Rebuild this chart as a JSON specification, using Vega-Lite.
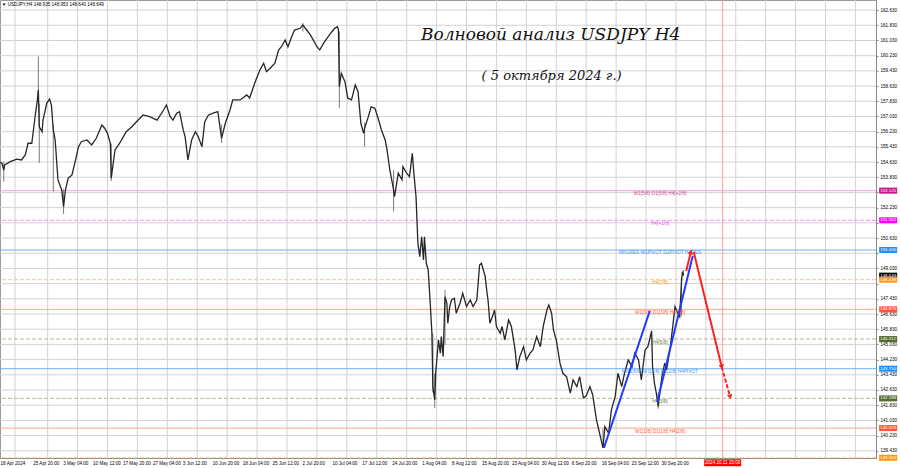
{
  "$schema": "https://vega.github.io/schema/vega-lite/v6.json",
  "width": 876,
  "height": 458,
  "autosize": {"type": "none"},
  "padding": {"left": 0, "top": 0, "right": 24, "bottom": 10},
  "background": "#ffffff",
  "config": {"view": {"stroke": "#9a9a9a", "strokeWidth": 1}, "font": "Liberation Sans", "axis": {"title": null}},
  "datasets": {
    "price": [
      {"b":0,"c":154.63},{"b":2,"c":154.57},{"b":4,"c":154.21},{"b":5,"c":154.48},{"b":11,"c":154.65},{"b":18,"c":154.78},{"b":23,"c":154.74},{"b":27,"c":155.0},{"b":30,"c":155.62},{"b":34,"c":155.62},{"b":36,"c":156.41},{"b":38,"c":157.2},{"b":40,"c":157.9},{"b":41,"c":158.42},{"b":42,"c":156.49},{"b":45,"c":156.23},{"b":46,"c":156.84},{"b":50,"c":157.72},{"b":53,"c":157.95},{"b":55,"c":157.63},{"b":57,"c":156.32},{"b":59,"c":155.79},{"b":62,"c":153.69},{"b":66,"c":153.16},{"b":68,"c":152.28},{"b":70,"c":153.16},{"b":73,"c":153.78},{"b":77,"c":153.95},{"b":80,"c":154.57},{"b":84,"c":155.44},{"b":87,"c":155.7},{"b":93,"c":155.79},{"b":98,"c":155.53},{"b":103,"c":155.88},{"b":109,"c":156.58},{"b":112,"c":156.41},{"b":115,"c":156.14},{"b":118,"c":155.62},{"b":119,"c":153.78},{"b":123,"c":155.27},{"b":128,"c":155.62},{"b":132,"c":155.97},{"b":135,"c":156.23},{"b":141,"c":156.49},{"b":146,"c":156.75},{"b":153,"c":157.11},{"b":160,"c":157.02},{"b":168,"c":156.84},{"b":175,"c":157.37},{"b":178,"c":157.63},{"b":182,"c":157.02},{"b":185,"c":156.84},{"b":189,"c":157.2},{"b":192,"c":157.28},{"b":196,"c":156.32},{"b":198,"c":155.97},{"b":201,"c":154.74},{"b":205,"c":155.79},{"b":209,"c":156.23},{"b":212,"c":155.97},{"b":216,"c":155.44},{"b":219,"c":156.75},{"b":223,"c":157.11},{"b":228,"c":157.2},{"b":233,"c":157.28},{"b":237,"c":155.88},{"b":241,"c":156.67},{"b":246,"c":157.37},{"b":249,"c":157.9},{"b":257,"c":157.9},{"b":264,"c":158.16},{"b":267,"c":158.0},{"b":273,"c":158.86},{"b":278,"c":159.48},{"b":282,"c":159.83},{"b":285,"c":159.39},{"b":289,"c":159.57},{"b":294,"c":159.83},{"b":298,"c":160.53},{"b":301,"c":160.7},{"b":305,"c":161.06},{"b":308,"c":160.7},{"b":312,"c":161.23},{"b":315,"c":161.58},{"b":321,"c":161.67},{"b":324,"c":161.84},{"b":328,"c":161.58},{"b":332,"c":161.32},{"b":335,"c":161.06},{"b":339,"c":160.7},{"b":342,"c":160.53},{"b":346,"c":160.88},{"b":351,"c":161.23},{"b":355,"c":161.49},{"b":358,"c":161.67},{"b":361,"c":161.75},{"b":362,"c":161.58},{"b":363,"c":158.6},{"b":365,"c":159.3},{"b":369,"c":158.86},{"b":372,"c":157.99},{"b":376,"c":157.9},{"b":380,"c":158.69},{"b":383,"c":158.33},{"b":386,"c":156.67},{"b":389,"c":156.14},{"b":390,"c":156.41},{"b":394,"c":157.02},{"b":397,"c":157.54},{"b":401,"c":157.46},{"b":405,"c":156.84},{"b":408,"c":156.32},{"b":412,"c":155.79},{"b":414,"c":155.27},{"b":417,"c":154.21},{"b":421,"c":153.16},{"b":422,"c":152.81},{"b":426,"c":154.04},{"b":430,"c":153.69},{"b":431,"c":154.39},{"b":435,"c":154.04},{"b":438,"c":153.86},{"b":441,"c":155.09},{"b":443,"c":153.86},{"b":445,"c":152.81},{"b":446,"c":151.58},{"b":447,"c":150.36},{"b":449,"c":149.65},{"b":451,"c":150.7},{"b":453,"c":149.48},{"b":454,"c":150.7},{"b":456,"c":149.3},{"b":458,"c":148.95},{"b":460,"c":147.37},{"b":462,"c":145.62},{"b":463,"c":142.81},{"b":465,"c":142.11},{"b":466,"c":143.51},{"b":469,"c":145.27},{"b":471,"c":144.57},{"b":472,"c":145.44},{"b":474,"c":144.39},{"b":476,"c":147.54},{"b":478,"c":147.2},{"b":479,"c":146.14},{"b":481,"c":147.02},{"b":483,"c":147.37},{"b":486,"c":147.46},{"b":488,"c":146.67},{"b":492,"c":147.2},{"b":495,"c":147.72},{"b":499,"c":147.02},{"b":503,"c":147.37},{"b":506,"c":147.02},{"b":510,"c":147.37},{"b":513,"c":149.21},{"b":515,"c":149.3},{"b":519,"c":148.6},{"b":521,"c":147.72},{"b":522,"c":147.37},{"b":524,"c":146.14},{"b":528,"c":146.67},{"b":529,"c":146.84},{"b":531,"c":145.97},{"b":535,"c":145.62},{"b":537,"c":145.97},{"b":540,"c":145.27},{"b":544,"c":146.32},{"b":547,"c":145.97},{"b":551,"c":144.74},{"b":553,"c":143.69},{"b":556,"c":144.39},{"b":560,"c":144.91},{"b":563,"c":144.21},{"b":567,"c":144.57},{"b":570,"c":144.74},{"b":574,"c":145.44},{"b":578,"c":144.91},{"b":581,"c":145.97},{"b":585,"c":146.84},{"b":587,"c":147.11},{"b":590,"c":146.67},{"b":592,"c":145.79},{"b":595,"c":145.27},{"b":599,"c":144.04},{"b":602,"c":143.51},{"b":606,"c":143.33},{"b":610,"c":142.46},{"b":613,"c":143.16},{"b":617,"c":142.81},{"b":620,"c":143.33},{"b":624,"c":142.21},{"b":627,"c":142.32},{"b":631,"c":142.81},{"b":634,"c":142.37},{"b":638,"c":141.06},{"b":640,"c":140.63},{"b":643,"c":140.0},{"b":645,"c":139.58},{"b":647,"c":140.7},{"b":651,"c":140.36},{"b":654,"c":141.58},{"b":658,"c":142.28},{"b":661,"c":143.51},{"b":665,"c":142.81},{"b":668,"c":143.51},{"b":672,"c":144.21},{"b":676,"c":143.86},{"b":679,"c":144.57},{"b":683,"c":144.21},{"b":686,"c":143.16},{"b":690,"c":144.74},{"b":693,"c":144.91},{"b":697,"c":145.74},{"b":698,"c":143.86},{"b":700,"c":142.99},{"b":702,"c":142.46},{"b":704,"c":141.76},{"b":708,"c":143.33},{"b":711,"c":144.04},{"b":713,"c":143.69},{"b":717,"c":144.91},{"b":720,"c":146.14},{"b":722,"c":147.02},{"b":725,"c":146.67},{"b":727,"c":146.49},{"b":729,"c":148.42},{"b":730,"c":148.86},{"b":731,"c":148.66}
    ],
    "wicks": [
      {"b":4,"l":153.6,"h":154.65},{"b":41,"l":157.9,"h":160.18},{"b":42,"l":154.58,"h":157.7},{"b":57,"l":153.07,"h":156.6},{"b":68,"l":151.9,"h":153.2},{"b":119,"l":153.63,"h":155.6},{"b":237,"l":155.63,"h":156.6},{"b":324,"l":161.5,"h":161.95},{"b":363,"l":157.46,"h":161.5},{"b":390,"l":155.44,"h":156.7},{"b":421,"l":152.02,"h":154.2},{"b":463,"l":142.5,"h":145.6},{"b":465,"l":141.69,"h":143.5},{"b":476,"l":145.0,"h":147.9},{"b":645,"l":139.58,"h":140.6},{"b":704,"l":141.64,"h":142.5},{"b":729,"l":146.5,"h":148.6},{"b":731,"l":148.64,"h":148.95}
    ],
    "vgrid": [{"b":16},{"b":51},{"b":83},{"b":115},{"b":147},{"b":179},{"b":211},{"b":243},{"b":275},{"b":307},{"b":339},{"b":371},{"b":403},{"b":435},{"b":467},{"b":499},{"b":531},{"b":563},{"b":595},{"b":627},{"b":659},{"b":691},{"b":723},{"b":755},{"b":787},{"b":819},{"b":851},{"b":883},{"b":915}],
    "hgrid": [{"v":139.43},{"v":140.23},{"v":141.03},{"v":141.83},{"v":142.63},{"v":143.43},{"v":144.23},{"v":145.03},{"v":145.83},{"v":146.63},{"v":147.43},{"v":148.23},{"v":149.03},{"v":149.83},{"v":150.63},{"v":151.43},{"v":152.23},{"v":153.03},{"v":153.83},{"v":154.63},{"v":155.43},{"v":156.23},{"v":157.03},{"v":157.83},{"v":158.63},{"v":159.43},{"v":160.23},{"v":161.03},{"v":161.83},{"v":162.63}],
    "levels": [
      {"v":153.125,"k":"p5","src":"multi","lbl":"W1[5/8] D1[5/8] H4[+2/8]"},
      {"v":151.562,"k":"p1","src":"H4","lbl":"H4[+1/8]"},
      {"v":150.0,"k":"piv","src":"multi","lbl":"MN1RES W1PIVOT D1PIVOT H4RES"},
      {"v":148.438,"k":"o7","src":"H4","lbl":"H4[7/8]"},
      {"v":146.875,"k":"r3","src":"multi","lbl":"W1[3/8] D1[3/8] H4[6/8]"},
      {"v":145.312,"k":"g5","src":"H4","lbl":"H4[5/8]"},
      {"v":143.75,"k":"piv","src":"multi","lbl":"MN1[6/8] W1[2/8] D1[2/8] H4PIVOT"},
      {"v":142.188,"k":"g5","src":"H4","lbl":"H4[3/8]"},
      {"v":140.625,"k":"r3","src":"multi","lbl":"W1[1/8] D1[1/8] H4[2/8]"},
      {"v":139.062,"k":"o7","src":"H4","lbl":""}
    ],
    "tags": [
      {"v":153.125,"k":"p5"},{"v":151.562,"k":"p1"},{"v":150.0,"k":"piv"},{"v":148.649,"k":"now"},{"v":148.438,"k":"o7"},{"v":146.875,"k":"r3"},{"v":145.312,"k":"g5"},{"v":143.75,"k":"piv"},{"v":142.188,"k":"g5"},{"v":140.625,"k":"r3"},{"v":139.062,"k":"o7"}
    ],
    "waves": [
      {"g":"b1","b":646,"v":139.58},{"g":"b1","b":695,"v":146.79},
      {"g":"b2","b":703,"v":142.0},{"g":"b2","b":741,"v":149.69},
      {"g":"r1","b":734,"v":148.9},{"g":"r1","b":739,"v":149.9},
      {"g":"r2","b":742,"v":149.9},{"g":"r2","b":772,"v":143.84},
      {"g":"r3","b":772,"v":143.84},{"g":"r3","b":781,"v":142.27}
    ],
    "heads": [
      {"g":"r1","b":739,"v":149.9},{"g":"r2","b":772,"v":143.84},{"g":"r3","b":781,"v":142.27}
    ],
    "vline": [{"b":773,"t":"2024.10.11 20:00"}]
  },
  "resolve": {"scale": {"color": "independent", "strokeDash": "independent"}},
  "layer": [
    {
      "data": {"name": "vgrid"},
      "mark": {"type": "rule", "color": "#d2d2d2", "strokeWidth": 1},
      "encoding": {
        "x": {"field": "b", "type": "quantitative",
          "scale": {"domain": [0, 937], "nice": false, "zero": false},
          "axis": {"orient": "bottom", "title": null, "tickCount": 200,
            "values": [0,35,67,99,131,163,195,227,259,291,323,355,387,419,451,483,515,547,579,611,643,675,707],
            "labelExpr": "['18 Apr 2024','25 Apr 20:00','3 May 04:00','10 May 12:00','17 May 20:00','27 May 04:00','3 Jun 12:00','10 Jun 20:00','18 Jun 04:00','25 Jun 12:00','2 Jul 20:00','10 Jul 04:00','17 Jul 12:00','24 Jul 20:00','1 Aug 04:00','8 Aug 12:00','15 Aug 20:00','23 Aug 04:00','30 Aug 12:00','6 Sep 20:00','16 Sep 04:00','23 Sep 12:00','30 Sep 20:00'][datum.value == 0 ? 0 : (datum.value - 3) / 32]",
            "labelAlign": "left", "labelFontSize": 4.6, "labelColor": "#000000", "labelPadding": 2,
            "ticks": false, "grid": false, "domainColor": "#888888", "labelOverlap": false, "labelBound": false, "labelFlush": false}}
      }
    },
    {
      "data": {"name": "hgrid"},
      "mark": {"type": "rule", "color": "#d2d2d2", "strokeWidth": 1},
      "encoding": {
        "y": {"field": "v", "type": "quantitative",
          "scale": {"domain": [139.05, 163.16], "nice": false, "zero": false},
          "axis": {"orient": "right", "title": null, "tickCount": 200, "values": [139.43,140.23,141.03,141.83,142.63,143.43,144.23,145.03,145.83,146.63,147.43,148.23,149.03,149.83,150.63,151.43,152.23,153.03,153.83,154.63,155.43,156.23,157.03,157.83,158.63,159.43,160.23,161.03,161.83,162.63],
            "labelExpr": "indexof([153.03,151.43,149.83,148.23], datum.value) >= 0 ? '' : format(datum.value, '.3f')",
            "labelFontSize": 4.6, "labelColor": "#000000", "labelPadding": 2, "tickSize": 2, "tickColor": "#888888", "domainColor": "#888888", "grid": false, "labelOverlap": false, "labelBound": false, "labelFlush": false}}
      }
    },
    {
      "data": {"name": "levels"},
      "mark": {"type": "rule", "strokeWidth": 1},
      "encoding": {
        "y": {"field": "v", "type": "quantitative", "scale": {"domain": [139.05, 163.16], "nice": false, "zero": false}},
        "color": {"field": "k", "type": "nominal", "legend": null,
          "scale": {"domain": ["p5","p1","piv","o7","r3","g5"], "range": ["#f0a8d6","#ff8cff","#6fb0f8","#ffc78a","#ffa68c","#b9b99a"]}},
        "strokeDash": {"field": "src", "type": "nominal", "legend": null,
          "scale": {"domain": ["multi","H4"], "range": [[1,0],[4,2]]}}
      }
    },
    {
      "data": {"name": "vline"},
      "mark": {"type": "rule", "color": "#ff9c9c", "strokeWidth": 1},
      "encoding": {
        "x": {"field": "b", "type": "quantitative", "scale": {"domain": [0, 937], "nice": false, "zero": false}}
      }
    },
    {
      "data": {"name": "wicks"},
      "mark": {"type": "rule", "color": "#7a7a7a", "strokeWidth": 1},
      "encoding": {
        "x": {"field": "b", "type": "quantitative", "scale": {"domain": [0, 937], "nice": false, "zero": false}},
        "y": {"field": "l", "type": "quantitative", "scale": {"domain": [139.05, 163.16], "nice": false, "zero": false}},
        "y2": {"field": "h"}
      }
    },
    {
      "data": {"name": "price"},
      "mark": {"type": "line", "color": "#262626", "strokeWidth": 1.3},
      "encoding": {
        "x": {"field": "b", "type": "quantitative", "scale": {"domain": [0, 937], "nice": false, "zero": false}},
        "y": {"field": "c", "type": "quantitative", "scale": {"domain": [139.05, 163.16], "nice": false, "zero": false}}
      }
    },
    {
      "data": {"name": "levels"},
      "mark": {"type": "text", "align": "center", "baseline": "top", "fontSize": 4.8, "dy": 0.5},
      "encoding": {
        "x": {"datum": 706, "type": "quantitative", "scale": {"domain": [0, 937], "nice": false, "zero": false}},
        "y": {"field": "v", "type": "quantitative", "scale": {"domain": [139.05, 163.16], "nice": false, "zero": false}},
        "text": {"field": "lbl"},
        "color": {"field": "k", "type": "nominal", "legend": null,
          "scale": {"domain": ["p5","p1","piv","o7","r3","g5"], "range": ["#cf4a9c","#ee55ee","#3d94ee","#ff9a2e","#ff5b33","#6d8443"]}}
      }
    },
    {
      "data": {"name": "waves"},
      "mark": {"type": "line", "strokeWidth": 2},
      "encoding": {
        "x": {"field": "b", "type": "quantitative", "scale": {"domain": [0, 937], "nice": false, "zero": false}},
        "y": {"field": "v", "type": "quantitative", "scale": {"domain": [139.05, 163.16], "nice": false, "zero": false}},
        "color": {"field": "g", "type": "nominal", "legend": null,
          "scale": {"domain": ["b1","b2","r1","r2","r3"], "range": ["#1f3cff","#1f3cff","#ff2020","#ff2020","#ff2020"]}},
        "strokeDash": {"field": "g", "type": "nominal", "legend": null,
          "scale": {"domain": ["b1","b2","r1","r2","r3"], "range": [[1,0],[1,0],[1,0],[1,0],[4,2]]}}
      }
    },
    {
      "data": {"name": "heads"},
      "transform": [{"filter": "datum.g == 'r1'"}],
      "mark": {"type": "point", "shape": "triangle-up", "filled": true, "color": "#ff2020", "size": 30, "angle": 15, "opacity": 1},
      "encoding": {
        "x": {"field": "b", "type": "quantitative", "scale": {"domain": [0, 937], "nice": false, "zero": false}},
        "y": {"field": "v", "type": "quantitative", "scale": {"domain": [139.05, 163.16], "nice": false, "zero": false}}
      }
    },
    {
      "data": {"name": "heads"},
      "transform": [{"filter": "datum.g == 'r2'"}],
      "mark": {"type": "point", "shape": "triangle-up", "filled": true, "color": "#ff2020", "size": 30, "angle": 166, "opacity": 1},
      "encoding": {
        "x": {"field": "b", "type": "quantitative", "scale": {"domain": [0, 937], "nice": false, "zero": false}},
        "y": {"field": "v", "type": "quantitative", "scale": {"domain": [139.05, 163.16], "nice": false, "zero": false}}
      }
    },
    {
      "data": {"name": "heads"},
      "transform": [{"filter": "datum.g == 'r3'"}],
      "mark": {"type": "point", "shape": "triangle-up", "filled": true, "color": "#ff2020", "size": 30, "angle": 165, "opacity": 1},
      "encoding": {
        "x": {"field": "b", "type": "quantitative", "scale": {"domain": [0, 937], "nice": false, "zero": false}},
        "y": {"field": "v", "type": "quantitative", "scale": {"domain": [139.05, 163.16], "nice": false, "zero": false}}
      }
    },
    {
      "data": {"name": "tags"},
      "mark": {"type": "tick", "orient": "horizontal", "size": 18, "thickness": 6, "opacity": 1},
      "encoding": {
        "x": {"datum": 950, "type": "quantitative", "scale": {"domain": [0, 937], "nice": false, "zero": false}},
        "y": {"field": "v", "type": "quantitative", "scale": {"domain": [139.05, 163.16], "nice": false, "zero": false}},
        "color": {"field": "k", "type": "nominal", "legend": null,
          "scale": {"domain": ["p5","p1","piv","now","o7","r3","g5"], "range": ["#c71585","#ff00ff","#1e90ff","#000000","#ff9900","#ff5533","#556b2f"]}}
      }
    },
    {
      "data": {"name": "tags"},
      "mark": {"type": "text", "align": "center", "baseline": "middle", "fontSize": 4.4, "color": "#ffffff"},
      "encoding": {
        "x": {"datum": 950, "type": "quantitative", "scale": {"domain": [0, 937], "nice": false, "zero": false}},
        "y": {"field": "v", "type": "quantitative", "scale": {"domain": [139.05, 163.16], "nice": false, "zero": false}},
        "text": {"field": "v", "type": "quantitative", "format": ".3f"}
      }
    },
    {
      "data": {"name": "vline"},
      "mark": {"type": "tick", "orient": "horizontal", "size": 37, "thickness": 7, "color": "#ff0000", "opacity": 1},
      "encoding": {
        "x": {"field": "b", "type": "quantitative", "scale": {"domain": [0, 937], "nice": false, "zero": false}},
        "y": {"datum": 138.8, "type": "quantitative", "scale": {"domain": [139.05, 163.16], "nice": false, "zero": false}}
      }
    },
    {
      "data": {"name": "vline"},
      "mark": {"type": "text", "align": "center", "baseline": "middle", "fontSize": 4.6, "color": "#ffffff"},
      "encoding": {
        "x": {"field": "b", "type": "quantitative", "scale": {"domain": [0, 937], "nice": false, "zero": false}},
        "y": {"datum": 138.8, "type": "quantitative", "scale": {"domain": [139.05, 163.16], "nice": false, "zero": false}},
        "text": {"field": "t"}
      }
    },
    {
      "data": {"values": [{"t": "▼ USDJPY,H4  148.935 148.953 148.640 148.649"}]},
      "mark": {"type": "text", "align": "left", "baseline": "middle", "fontSize": 4.6, "color": "#000000"},
      "encoding": {
        "x": {"datum": 2, "type": "quantitative", "scale": {"domain": [0, 937], "nice": false, "zero": false}},
        "y": {"datum": 162.9, "type": "quantitative", "scale": {"domain": [139.05, 163.16], "nice": false, "zero": false}},
        "text": {"field": "t"}
      }
    },
    {
      "data": {"values": [{"t": "Волновой анализ USDJPY H4"}]},
      "mark": {"type": "text", "align": "center", "baseline": "middle", "fontSize": 17, "font": "DejaVu Serif", "fontStyle": "italic", "color": "#111111"},
      "encoding": {
        "x": {"datum": 589, "type": "quantitative", "scale": {"domain": [0, 937], "nice": false, "zero": false}},
        "y": {"datum": 161.32, "type": "quantitative", "scale": {"domain": [139.05, 163.16], "nice": false, "zero": false}},
        "text": {"field": "t"}
      }
    },
    {
      "data": {"values": [{"t": "( 5 октября 2024 г.)"}]},
      "mark": {"type": "text", "align": "center", "baseline": "middle", "fontSize": 13, "font": "DejaVu Serif", "fontStyle": "italic", "color": "#111111"},
      "encoding": {
        "x": {"datum": 590, "type": "quantitative", "scale": {"domain": [0, 937], "nice": false, "zero": false}},
        "y": {"datum": 159.16, "type": "quantitative", "scale": {"domain": [139.05, 163.16], "nice": false, "zero": false}},
        "text": {"field": "t"}
      }
    }
  ]
}
